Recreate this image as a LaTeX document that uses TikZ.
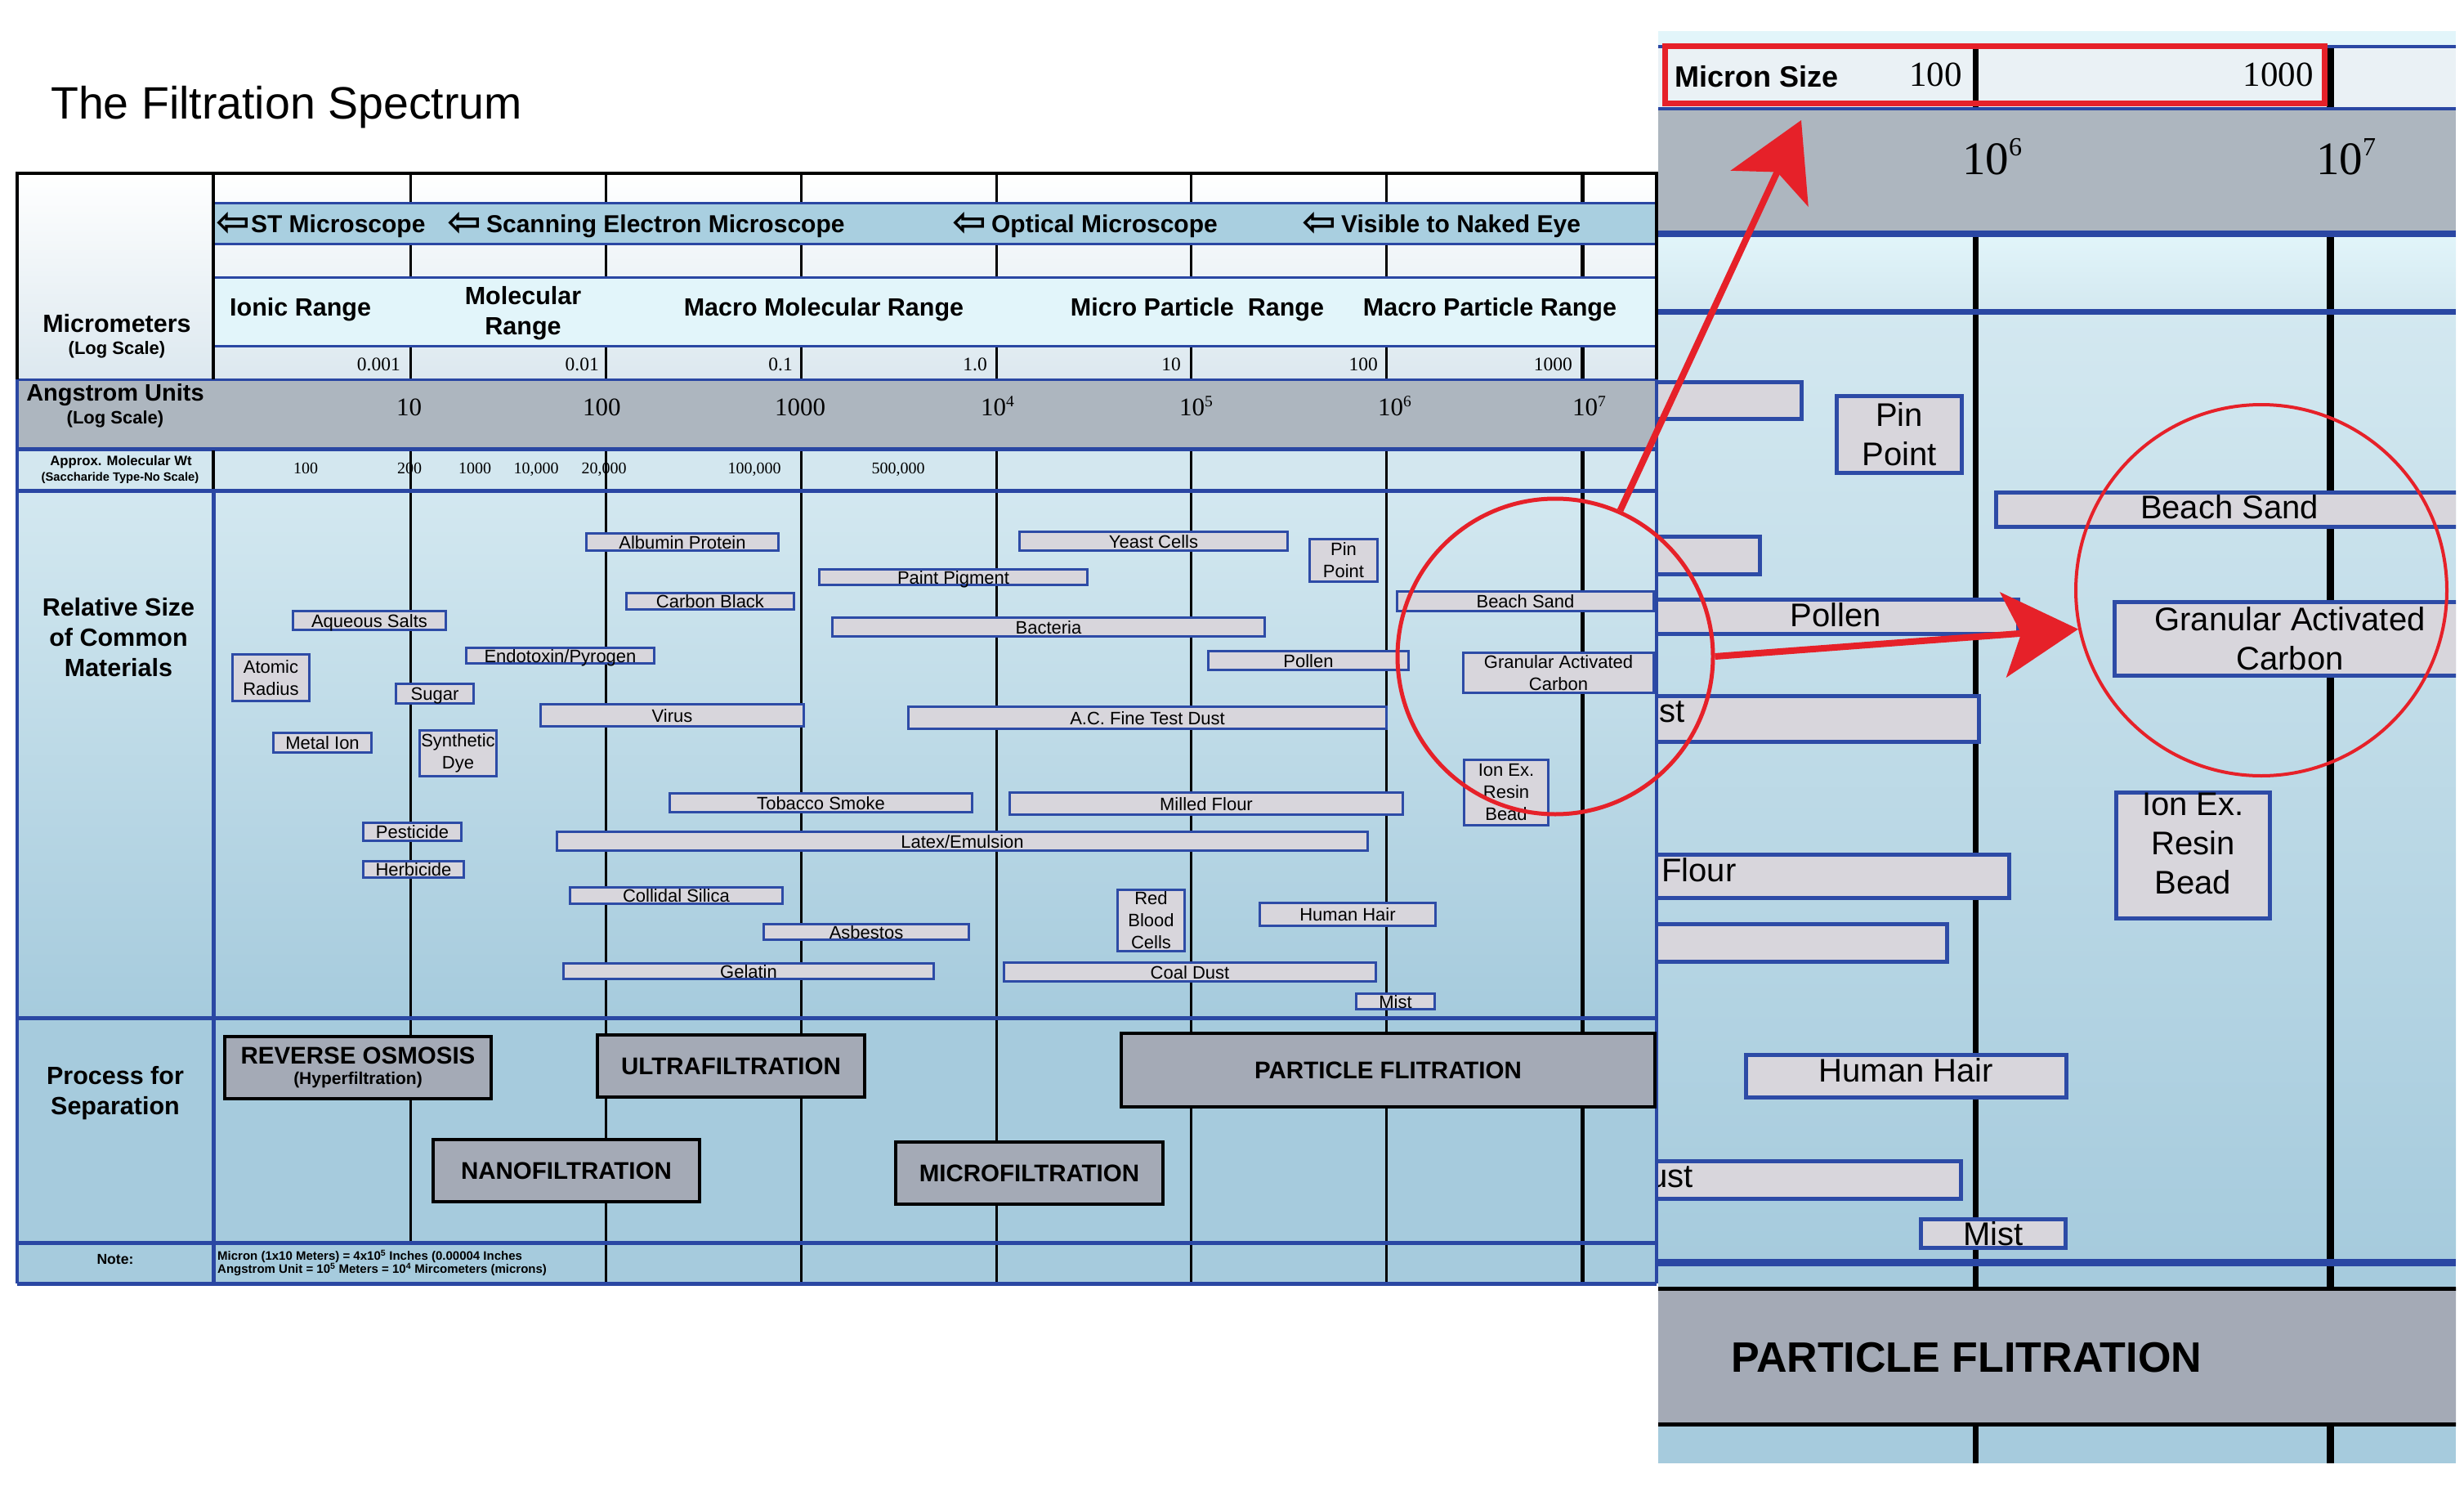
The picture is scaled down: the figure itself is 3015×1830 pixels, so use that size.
\documentclass[tikz,border=0pt]{standalone}
\usepackage{fontspec}
\setmainfont{Liberation Sans}
\newfontfamily\numfont{Liberation Serif}
\newfontfamily\symfont{DejaVu Sans}
\usetikzlibrary{arrows.meta}
\definecolor{lineblue}{HTML}{2A47A3}
\definecolor{matblue}{HTML}{2D4BA6}
\definecolor{matfill}{HTML}{D8D6DC}
\definecolor{procfill}{HTML}{A4AAB6}
\definecolor{bandgray}{HTML}{ADB6BF}
\definecolor{microband}{HTML}{A9CFE0}
\definecolor{rangefill}{HTML}{E2F5FA}
\definecolor{lowblue}{HTML}{A6CBDD}
\definecolor{highblue}{HTML}{D3E8F0}
\definecolor{molfill}{HTML}{D3E7EF}
\definecolor{topfill}{HTML}{DCE8EF}
\definecolor{redmark}{HTML}{E62129}
\newcommand\fsz[2]{\fontsize{#1}{#2}\selectfont}
\newcommand\larr{{\symfont\fsz{50}{50}\raisebox{-4pt}{⇦}}}
\newcommand\asup[1]{\raisebox{11pt}{\fsz{19.5}{20}#1}}
\newcommand\isup[1]{\raisebox{23pt}{\fsz{32}{32}#1}}
\tikzset{
  vline/.style={black, line width=3pt},
  hblue/.style={lineblue, line width=5pt},
  mat/.style={draw=matblue, fill=matfill, line width=3pt, inner sep=0pt, font=\fsz{22}{27}, text height=16pt, text depth=0pt},
  matm/.style={draw=matblue, fill=matfill, line width=3pt, inner sep=0pt, font=\fsz{22}{27}, align=center},
  imat/.style={draw=matblue, fill=matfill, line width=5pt, inner sep=0pt, font=\fsz{40}{48}, align=center},
  isingle/.style={text height=29pt, text depth=0pt},
  ibox/.style={draw=matblue, fill=matfill, line width=5pt},
  ilbl/.style={font=\fsz{40}{48}, inner sep=0pt},
  proc/.style={draw=black, fill=procfill, line width=4pt, inner sep=0pt, font=\bfseries\fsz{29.5}{25}, align=center},
  hdr/.style={font=\bfseries\fsz{30.5}{37}, inner sep=0pt, align=center},
  sub/.style={font=\bfseries\fsz{22}{26}, inner sep=0pt},
  mnum/.style={font=\numfont\fsz{23.5}{26}, inner sep=0pt, anchor=base east},
  anum/.style={font=\numfont\fsz{31}{34}, inner sep=0pt, anchor=base west},
  wnum/.style={font=\numfont\fsz{20}{22}, inner sep=0pt, anchor=base},
  redc/.style={draw=redmark, line width=5pt, circle, inner sep=0pt},
  redarrow/.style={redmark, line width=8pt, -{Stealth[length=92pt,width=104pt,inset=22pt]}}
}
\newcommand\matbox[6]{\node[mat, minimum width=#4pt, minimum height=#5pt] (#1) at (#2,#3) {#6};}
\newcommand\matboxm[6]{\node[matm, minimum width=#4pt, minimum height=#5pt] (#1) at (#2,#3) {#6};}
\begin{document}
\begin{tikzpicture}[x=1pt,y=-1pt]
\useasboundingbox (0,0) rectangle (3015,1830);
\fill[white] (0,0) rectangle (3015,1830);

% title
\node[anchor=base west, inner sep=0pt, font=\fsz{55.5}{60}] (title) at (62,146) {The Filtration Spectrum};

% ---------------- main chart backgrounds
\shade[top color=white, bottom color=topfill] (21,212) rectangle (2027,464);
\fill[molfill] (21,549) rectangle (2027,600);
\shade[top color=highblue, bottom color=lowblue] (21,600) rectangle (2027,1245);
\fill[lowblue] (21,1245) rectangle (2027,1570);

% vertical scale lines
\foreach \x in {741,980,1219,1457,1696} \draw[vline] (\x,212) -- (\x,1570);
\draw[vline] (502,212) -- (502,1520);
\draw[vline, line width=5pt] (1936,212) -- (1936,1570);

% bands
\draw[fill=microband, draw=lineblue, line width=3pt] (261,249) rectangle (2027,298);
\draw[fill=rangefill, draw=lineblue, line width=3pt] (261,339) rectangle (2027,423);
\fill[bandgray] (21,464) rectangle (2027,549);
\draw[lineblue, line width=3pt] (21,464) -- (2027,464);
\foreach \y in {549,600,1245,1520,1570} \draw[hblue] (21,\y) -- (2027,\y);

% borders and left divider
\draw[black, line width=4pt] (21,464) -- (21,212) -- (2027,212) -- (2027,464);
\draw[lineblue, line width=4pt] (21,464) -- (21,1570);
\draw[lineblue, line width=4pt] (2027,464) -- (2027,1570);
\draw[black, line width=4pt] (261,212) -- (261,464);
\draw[black, line width=4pt] (261,551) -- (261,598);
\draw[lineblue, line width=5pt] (261,600) -- (261,1570);

% left column labels
\node[hdr, anchor=base] (lmicro) at (143,406) {Micrometers};
\node[sub, anchor=base] (lmicrosub) at (143,433) {(Log Scale)};
\node[font=\bfseries\fsz{29}{34}, inner sep=0pt, anchor=base] (lang) at (141,490) {Angstrom Units};
\node[sub, anchor=base] (langsub) at (141,518) {(Log Scale)};
\node[font=\bfseries\fsz{16.7}{19}, inner sep=0pt, anchor=base] (lmw) at (148,569) {Approx. Molecular Wt};
\node[font=\bfseries\fsz{14.7}{17}, inner sep=0pt, anchor=base] (lmwsub) at (147,588) {(Saccharide Type-No Scale)};
\node[hdr] (lrel) at (145,780) {Relative Size\\of Common\\Materials};
\node[hdr] (lproc) at (141,1337) {Process for\\Separation};
\node[font=\bfseries\fsz{17.6}{20}, inner sep=0pt, anchor=base] (lnote) at (141,1546) {Note:};
\node[font=\bfseries\fsz{15}{16}, inner sep=0pt, anchor=west, align=left] (notetxt) at (266,1545)
  {Micron (1x10 Meters) = 4x10\textsuperscript{5} Inches (0.00004 Inches\\Angstrom Unit = 10\textsuperscript{5} Meters = 10\textsuperscript{4} Mircometers (microns)};

% microscope row
\node[font=\bfseries\fsz{30}{36}, inner sep=0pt, anchor=base west] (stm) at (264,284) {\larr\hspace{1pt}ST Microscope};
\node[font=\bfseries\fsz{30}{36}, inner sep=0pt, anchor=base west] (sem) at (547,284) {\larr\hspace{6pt}Scanning Electron Microscope};
\node[font=\bfseries\fsz{30}{36}, inner sep=0pt, anchor=base west] (opt) at (1165,284) {\larr\hspace{6pt}Optical Microscope};
\node[font=\bfseries\fsz{30}{36}, inner sep=0pt, anchor=base west] (eye) at (1593,284) {\larr\hspace{6pt}Visible to Naked Eye};

% range row
\node[hdr, anchor=base west] (ionic) at (281,386) {Ionic Range};
\node[hdr] (molr) at (640,383) {Molecular\\Range};
\node[hdr, anchor=base] (macromol) at (1008,386) {Macro Molecular Range};
\node[hdr, anchor=base] (micropart) at (1465,386) {Micro Particle\ \ Range};
\node[hdr, anchor=base] (macropart) at (1823,386) {Macro Particle Range};

% micrometer numbers
\node[mnum] (m1) at (490,453) {0.001};
\node[mnum] (m2) at (733,453) {0.01};
\node[mnum] (m3) at (970,453) {0.1};
\node[mnum] (m4) at (1208,453) {1.0};
\node[mnum] (m5) at (1445,453) {10};
\node[mnum] (m6) at (1686,453) {100};
\node[mnum] (m7) at (1924,453) {1000};

% angstrom numbers
\node[anum] (a1) at (485,508) {10};
\node[anum] (a2) at (713,508) {100};
\node[anum] (a3) at (948,508) {1000};
\node[anum] (a4) at (1200,508) {10\asup{4}};
\node[anum] (a5) at (1443,508) {10\asup{5}};
\node[anum] (a6) at (1686,508) {10\asup{6}};
\node[anum] (a7) at (1924,508) {10\asup{7}};

% molecular weight numbers
\node[wnum] (w1) at (374,579) {100};
\node[wnum] (w2) at (501,579) {200};
\node[wnum] (w3) at (581,579) {1000};
\node[wnum] (w4) at (656,579) {10,000};
\node[wnum] (w5) at (739,579) {20,000};
\node[wnum] (w6) at (923,579) {100,000};
\node[wnum] (w7) at (1099,579) {500,000};

% materials
\matbox{albumin}{835}{663}{235}{21}{Albumin Protein}
\matbox{carbonblack}{869}{735.5}{205}{20}{Carbon Black}
\matbox{aqueous}{452}{759}{187}{23}{Aqueous Salts}
\matbox{endotoxin}{685.5}{802}{230}{19}{Endotoxin/Pyrogen}
\matboxm{atomic}{331.5}{829}{94}{57}{Atomic\\Radius}
\matbox{sugar}{532}{848.5}{95}{24}{Sugar}
\matbox{virus}{822.5}{875}{322}{27}{Virus}
\matbox{metalion}{394.5}{908.5}{120}{24}{Metal Ion}
\matboxm{synthdye}{560.5}{921.5}{94}{56}{Synthetic\\Dye}
\matbox{tobacco}{1004.5}{982}{370}{23}{Tobacco Smoke}
\matbox{latex}{1177.5}{1029}{992}{23}{Latex/Emulsion}
\matbox{pesticide}{504.5}{1017.5}{120}{22}{Pesticide}
\matbox{herbicide}{506}{1063.5}{123}{20}{Herbicide}
\matbox{silica}{827.5}{1095.5}{260}{20}{Collidal Silica}
\matbox{asbestos}{1060}{1140}{251}{19}{Asbestos}
\matbox{gelatin}{916}{1188}{453}{19}{Gelatin}
\matbox{yeast}{1411.5}{662}{328}{23}{Yeast Cells}
\matbox{paint}{1166.5}{706}{328}{19}{Paint Pigment}
\matboxm{pinpoint}{1644}{685.5}{83}{52}{Pin\\Point}
\matbox{beachsand}{1866.5}{735.5}{314}{24}{Beach Sand}
\matbox{bacteria}{1283}{767}{529}{23}{Bacteria}
\matbox{pollen}{1601}{808}{245}{23}{Pollen}
\matboxm{gac}{1907}{823}{233}{49}{Granular Activated\\Carbon}
\matbox{acdust}{1404}{878}{585}{27}{A.C. Fine Test Dust}
\matboxm{ionex}{1843}{969.5}{103}{80}{Ion Ex.\\Resin\\Bead}
\matbox{flour}{1476}{983}{481}{27}{Milled Flour}
\matboxm{rbc}{1408.5}{1126}{82}{75}{Red\\Blood\\Cells}
\matbox{hair}{1649}{1118.5}{215}{28}{Human Hair}
\matbox{coal}{1456}{1189}{455}{23}{Coal Dust}
\matbox{mist}{1707.5}{1225}{96}{19}{Mist}

% process boxes
\node[proc, minimum width=326pt, minimum height=76pt] (ro) at (438,1306) {REVERSE OSMOSIS\\{\fsz{21}{25}(Hyperfiltration)}};
\node[proc, minimum width=327pt, minimum height=76pt] (uf) at (894.5,1304) {ULTRAFILTRATION};
\node[proc, minimum width=326pt, minimum height=76pt] (nf) at (693,1432) {NANOFILTRATION};
\node[proc, minimum width=653pt, minimum height=90pt] (pf) at (1698.5,1309) {PARTICLE FLITRATION};
\node[proc, minimum width=327pt, minimum height=76pt] (mf) at (1259.5,1435) {MICROFILTRATION};

% ---------------- inset
\begin{scope}
\clip (2029,38) rectangle (3005,1790);
\fill[rangefill] (2029,38) rectangle (3005,56);
\fill[topfill!60] (2029,56) rectangle (3005,132);
\shade[top color=rangefill, bottom color=highblue] (2029,284) rectangle (3005,381);
\shade[top color=highblue, bottom color=lowblue] (2029,381) rectangle (3005,1544);
\fill[lowblue] (2029,1544) rectangle (3005,1790);
\draw[black, line width=7pt] (2417,56) -- (2417,1790);
\draw[black, line width=9pt] (2851,56) -- (2851,1790);
\fill[bandgray] (2029,132) rectangle (3005,284);
\draw[lineblue, line width=4pt] (2029,57) -- (3005,57);
\draw[lineblue, line width=4pt] (2029,133) -- (3005,133);
\draw[lineblue, line width=8pt] (2029,286) -- (3005,286);
\draw[lineblue, line width=7pt] (2029,381) -- (3005,381);
\draw[lineblue, line width=9pt] (2029,1544) -- (3005,1544);
\draw[black, line width=5pt, fill=procfill] (2020,1576) rectangle (3015,1742);
\node[font=\bfseries\fsz{52}{56}, inner sep=0pt, anchor=west] (ipf) at (2118,1661) {PARTICLE FLITRATION};

\node[font=\bfseries\fsz{36}{40}, inner sep=0pt, anchor=base west] (imicron) at (2049,107) {Micron Size};
\node[font=\numfont\fsz{43}{46}, inner sep=0pt, anchor=base east] (i100) at (2401,106) {100};
\node[font=\numfont\fsz{43}{46}, inner sep=0pt, anchor=base east] (i1000) at (2831,106) {1000};
\node[font=\numfont\fsz{57}{60}, inner sep=0pt, anchor=base west] (i106) at (2401,214) {10\isup{6}};
\node[font=\numfont\fsz{57}{60}, inner sep=0pt, anchor=base west] (i107) at (2834,214) {10\isup{7}};

\draw[ibox] (1990,467) rectangle (2204,512);
\draw[ibox] (1990,656) rectangle (2153,702);
\node[imat, minimum width=153pt, minimum height=94pt] (ipin) at (2324,531.5) {Pin\\Point};
\node[imat, isingle, text depth=8pt, minimum width=571pt, minimum height=42pt] (ibeach) at (2728,623.5) {Beach Sand};
\node[imat, isingle, text depth=6pt, minimum width=446pt, minimum height=42pt] (ipollen) at (2246.5,754.5) {Pollen};
\node[imat, minimum width=429pt, minimum height=90pt] (igac) at (2802,781.5) {Granular Activated\\Carbon};
\draw[ibox] (1990,851) rectangle (2421,907);
\node[ilbl, anchor=base east] (ist) at (2062,883) {st};
\node[imat, minimum width=188pt, minimum height=146pt] (iionex) at (2683.5,1046.5) {Ion Ex.\\Resin\\Bead\\[-18pt]\mbox{}};
\draw[ibox] (1990,1045) rectangle (2458,1098);
\node[ilbl, anchor=base west] (iflour) at (2033,1078) {Flour};
\draw[ibox] (1990,1130) rectangle (2382,1176);
\node[imat, isingle, text depth=16pt, minimum width=392pt, minimum height=52pt] (ihair) at (2332.5,1316.5) {Human Hair};
\draw[ibox] (1990,1420) rectangle (2399,1466);
\node[ilbl, anchor=base east] (iust) at (2072,1452) {ust};
\node[imat, isingle, minimum width=177pt, minimum height=35pt] (imist) at (2439,1509) {Mist};
\end{scope}

% ---------------- red annotations
\node[redc, minimum size=386pt] (ringA) at (1903,803) {};
\node[redc, line width=4pt, minimum size=454pt] (ringB) at (2767,722) {};
\node[draw=redmark, line width=7pt, inner sep=0pt, minimum width=807pt, minimum height=70pt] (micronbox) at (2441,91.5) {};
\coordinate (tipA) at (2204,147);
\draw[redarrow] (ringA.66) -- (tipA);
\draw[redarrow] (ringA.0) -- (ringB.192);
\end{tikzpicture}
\end{document}
